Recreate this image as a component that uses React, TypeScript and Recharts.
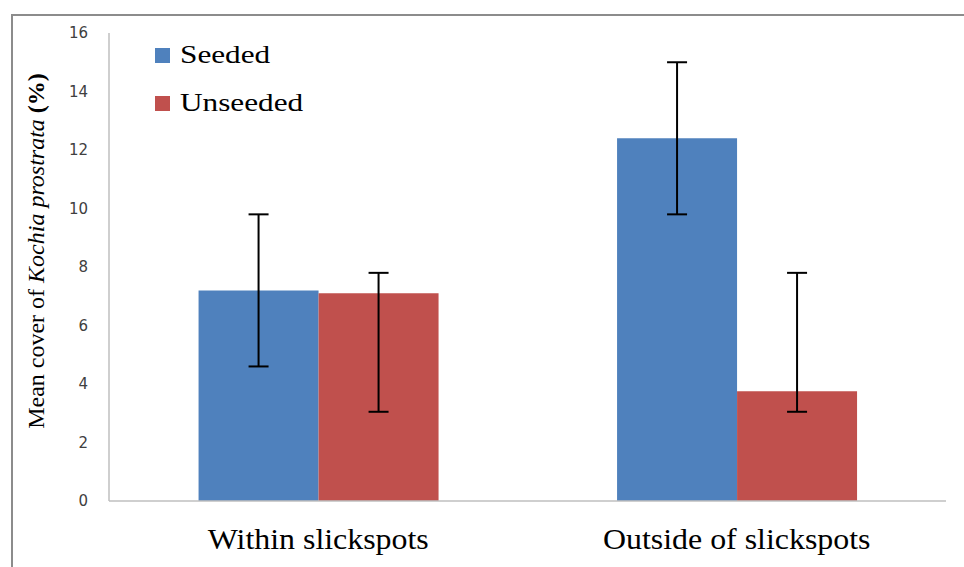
import React from "react";
import { BarChart, Bar, XAxis, YAxis, ErrorBar } from "recharts";

const categories = ["Within slickspots", "Outside of slickspots"];
const seeded = [7.2, 12.4];
const seededErr = [
  [2.6, 2.6],
  [2.6, 2.6],
];
const unseeded = [7.1, 3.75];
const unseededErr = [
  [4.05, 0.7],
  [0.7, 4.05],
];
const yTicks = [0, 2, 4, 6, 8, 10, 12, 14, 16];

const BLUE = "#4F81BD";
const RED = "#C0504D";
const SERIF = "'Liberation Serif', 'Times New Roman', serif";

const data = categories.map((c, i) => ({
  name: c,
  Seeded: seeded[i],
  seededErr: seededErr[i],
  Unseeded: unseeded[i],
  unseededErr: unseededErr[i],
}));

function YLabel() {
  return (
    <text
      x={36}
      y={251}
      transform="rotate(-90 36 251)"
      textAnchor="middle"
      dominantBaseline="central"
      fontFamily={SERIF}
      fontSize={24}
      fill="#000"
    >
      <tspan>Mean cover of </tspan>
      <tspan fontStyle="italic">Kochia prostrata</tspan>
      <tspan fontWeight="bold"> (%)</tspan>
    </text>
  );
}

function CatTick(props: any) {
  const { x, y, payload } = props;
  return (
    <g transform={`translate(${x},${y}) scale(1.1,1)`}>
      <text x={0} y={0} dy={19} textAnchor="middle" fontFamily={SERIF} fontSize={29} fill="#000">
        {payload.value}
      </text>
    </g>
  );
}

function LegendBox() {
  const items = [
    { label: "Seeded", color: BLUE },
    { label: "Unseeded", color: RED },
  ];
  return (
    <div style={{ position: "absolute", left: 155, top: 31, fontFamily: SERIF, fontSize: 25, color: "#000" }}>
      {items.map((it) => (
        <div key={it.label} style={{ display: "flex", alignItems: "center", height: 48 }}>
          <span style={{ width: 15, height: 15, background: it.color, marginRight: 10 }} />
          <span style={{ display: "inline-block", transform: "scaleX(1.25)", transformOrigin: "left center" }}>
            {it.label}
          </span>
        </div>
      ))}
    </div>
  );
}

export default function App() {
  return (
    <div style={{ position: "absolute", left: 0, top: 0, width: 964, height: 567, overflow: "hidden", background: "#fff" }}>
      <div
        style={{
          position: "absolute",
          left: 11,
          top: 14,
          width: 1000,
          height: 600,
          borderLeft: "2px solid #8c8c8c",
          borderTop: "2px solid #8c8c8c",
        }}
      />
      <BarChart
        width={964}
        height={567}
        data={data}
        margin={{ top: 33, right: 18, bottom: 0, left: 0 }}
        barCategoryGap="21.4%"
        barGap={0}
      >
        <XAxis
          dataKey="name"
          axisLine={{ stroke: "#bfbfbf", strokeWidth: 1.5 }}
          tickLine={false}
          tickSize={0}
          tickMargin={29}
          tick={<CatTick />}
          height={66}
        />
        <YAxis
          width={109}
          domain={[0, 16]}
          ticks={yTicks}
          interval={0}
          axisLine={{ stroke: "#bfbfbf", strokeWidth: 1.5 }}
          tickLine={false}
          tickSize={0}
          tickMargin={21}
          tick={{ fontFamily: "'DejaVu Sans', Verdana, sans-serif", fontSize: 15, fill: "#404040" }}
          label={<YLabel />}
        />
        <Bar dataKey="Seeded" fill={BLUE} isAnimationActive={false}>
          <ErrorBar dataKey="seededErr" width={10} stroke="#000" strokeWidth={2} direction="y" />
        </Bar>
        <Bar dataKey="Unseeded" fill={RED} isAnimationActive={false}>
          <ErrorBar dataKey="unseededErr" width={10} stroke="#000" strokeWidth={2} direction="y" />
        </Bar>
      </BarChart>
      <LegendBox />
    </div>
  );
}
